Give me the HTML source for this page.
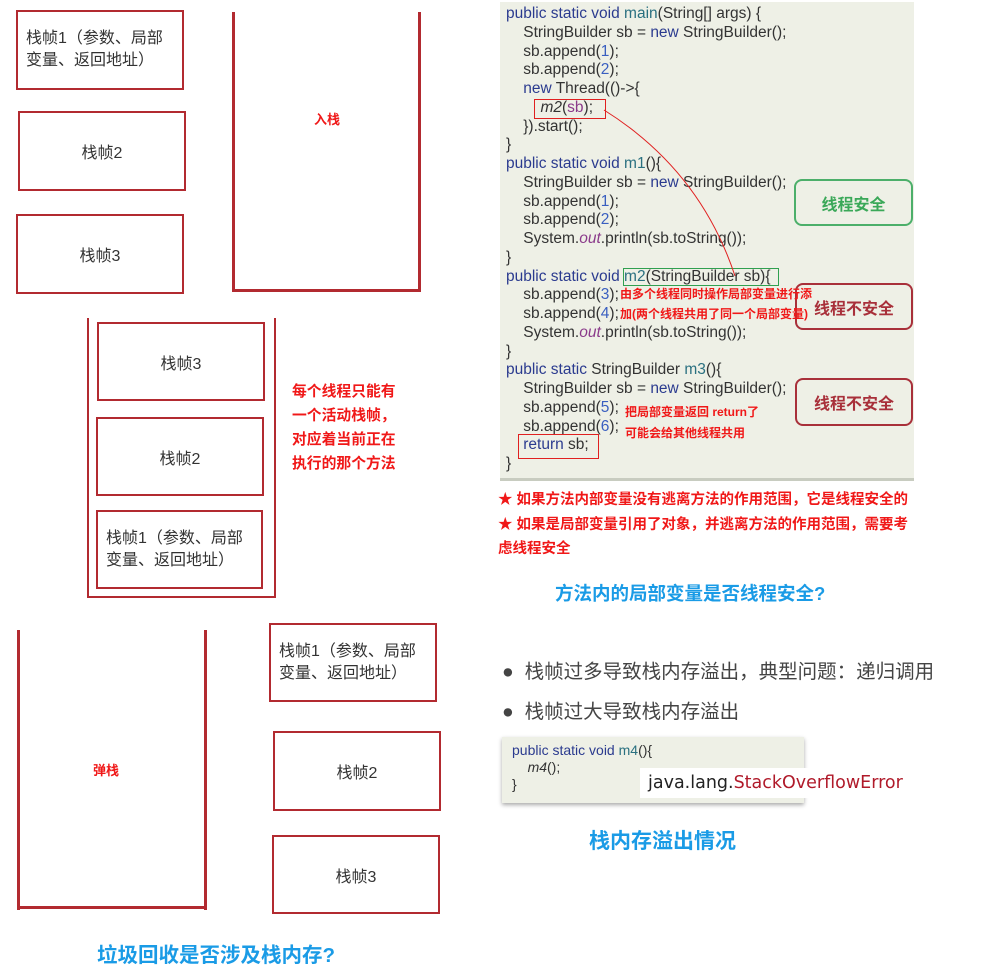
<!DOCTYPE html>
<html><head><meta charset="utf-8"><style>
body{margin:0;width:1006px;height:973px;background:#fff;position:relative;overflow:hidden;font-family:"Liberation Sans","Noto Sans CJK SC",sans-serif}
.a{position:absolute}
.box{position:absolute;border:2px solid #b22a30;box-sizing:border-box;display:flex;align-items:center;justify-content:center;font-size:16px;color:#333;background:#fff}
.box.l{justify-content:flex-start;padding-left:8px;line-height:22px}
.ln{position:absolute;background:#b22a30}
.red{color:#f01818;font-weight:bold}
.blue{color:#1a9be6;font-weight:bold;font-size:18px}
.code{position:absolute;font-size:15.5px;color:#333;line-height:18.75px;white-space:pre}
.k{color:#2b3b8f}.m{color:#2a7080}.n{color:#3a5fc0}.p{color:#8a3a8a}
.tag{position:absolute;border:2px solid;border-radius:8px;box-sizing:border-box;display:flex;align-items:center;justify-content:center;font-weight:bold;font-size:16px;background:#eef0e6}
</style></head><body>
<div class="box l" style="left:16px;top:10px;width:168px;height:80px">栈帧1（参数、局部<br>变量、返回地址）</div>
<div class="box" style="left:18px;top:111px;width:168px;height:80px">栈帧2</div>
<div class="box" style="left:16px;top:214px;width:168px;height:80px">栈帧3</div>
<div class="ln" style="left:232px;top:12px;width:3px;height:280px"></div>
<div class="ln" style="left:418px;top:12px;width:3px;height:280px"></div>
<div class="ln" style="left:232px;top:289px;width:189px;height:3px"></div>
<div class="a red" style="left:314px;top:109px;font-size:13px">入栈</div>
<div class="ln" style="left:87px;top:318px;width:2px;height:280px"></div>
<div class="ln" style="left:274px;top:318px;width:2px;height:280px"></div>
<div class="ln" style="left:87px;top:596px;width:189px;height:2px"></div>
<div class="box" style="left:97px;top:322px;width:168px;height:79px">栈帧3</div>
<div class="box" style="left:96px;top:417px;width:168px;height:79px">栈帧2</div>
<div class="box l" style="left:96px;top:510px;width:167px;height:79px">栈帧1（参数、局部<br>变量、返回地址）</div>
<div class="a red" style="left:292px;top:380px;font-size:14.8px;line-height:24px">每个线程只能有<br>一个活动栈帧，<br>对应着当前正在<br>执行的那个方法</div>
<div class="ln" style="left:17px;top:630px;width:3px;height:280px"></div>
<div class="ln" style="left:204px;top:630px;width:3px;height:280px"></div>
<div class="ln" style="left:17px;top:906px;width:190px;height:3px"></div>
<div class="a red" style="left:93px;top:760px;font-size:13px">弹栈</div>
<div class="box l" style="left:269px;top:623px;width:168px;height:79px">栈帧1（参数、局部<br>变量、返回地址）</div>
<div class="box" style="left:273px;top:731px;width:168px;height:80px">栈帧2</div>
<div class="box" style="left:272px;top:835px;width:168px;height:79px">栈帧3</div>
<div class="a blue" style="left:97px;top:938px;font-size:20.5px">垃圾回收是否涉及栈内存?</div>
<div class="a" style="left:500px;top:2px;width:414px;height:476px;background:#eef0e6;border-bottom:3px solid #c8ccc0"></div>
<div class="tag" style="left:794px;top:179px;width:119px;height:47px;border-color:#4caf6a;color:#3aa858">线程安全</div>
<div class="tag" style="left:795px;top:283px;width:118px;height:47px;border-color:#a8303a;color:#a8303a">线程不安全</div>
<div class="tag" style="left:795px;top:378px;width:118px;height:48px;border-color:#a8303a;color:#a8303a">线程不安全</div>
<div class="code" style="left:506px;top:5px"><span class="k">public static void</span> <span class="m">main</span>(String[] args) {
    StringBuilder sb = <span class="k">new</span> StringBuilder();
    sb.append(<span class="n">1</span>);
    sb.append(<span class="n">2</span>);
    <span class="k">new</span> Thread(()-&gt;{
        <i>m2</i>(<span class="p">sb</span>);
    }).start();
}
<span class="k">public static void</span> <span class="m">m1</span>(){
    StringBuilder sb = <span class="k">new</span> StringBuilder();
    sb.append(<span class="n">1</span>);
    sb.append(<span class="n">2</span>);
    System.<i class="p">out</i>.println(sb.toString());
}
<span class="k">public static void</span> <span class="m">m2</span>(StringBuilder sb){
    sb.append(<span class="n">3</span>);
    sb.append(<span class="n">4</span>);
    System.<i class="p">out</i>.println(sb.toString());
}
<span class="k">public static</span> StringBuilder <span class="m">m3</span>(){
    StringBuilder sb = <span class="k">new</span> StringBuilder();
    sb.append(<span class="n">5</span>);
    sb.append(<span class="n">6</span>);
    <span class="k">return</span> sb;
}</div>
<div class="a" style="left:534px;top:99px;width:70px;height:18px;border:1px solid #e02020"></div>
<div class="a" style="left:623px;top:268px;width:154px;height:16px;border:1px solid #30a050"></div>
<div class="a" style="left:518px;top:434px;width:79px;height:23px;border:1px solid #e02020"></div>
<svg class="a" style="left:0;top:0" width="1006" height="973"><path d="M604 110 Q700 170 735 276" fill="none" stroke="#e02020" stroke-width="1"/></svg>
<div class="a red" style="left:620px;top:284px;font-size:12px;line-height:20px">由多个线程同时操作局部变量进行添<br>加(两个线程共用了同一个局部变量)</div>
<div class="a red" style="left:625px;top:402px;font-size:12px;line-height:21px">把局部变量返回 return了<br>可能会给其他线程共用</div>
<div class="a red" style="left:498px;top:488px;font-size:14.5px;line-height:24.5px">★ 如果方法内部变量没有逃离方法的作用范围，它是线程安全的<br>★ 如果是局部变量引用了对象，并逃离方法的作用范围，需要考<br>虑线程安全</div>
<div class="a blue" style="left:555px;top:580px;font-size:18.5px">方法内的局部变量是否线程安全?</div>
<div class="a" style="left:502px;top:652px;font-size:19.5px;color:#444;line-height:40px">●&nbsp; 栈帧过多导致栈内存溢出，典型问题：递归调用<br>●&nbsp; 栈帧过大导致栈内存溢出</div>
<div class="a" style="left:502px;top:737px;width:302px;height:66px;background:#eef0e6;box-shadow:0 2px 4px #aaa"></div>
<div class="code" style="left:512px;top:742px;font-size:14px;line-height:17px"><span class="k">public static void</span> <span class="m">m4</span>(){
    <i>m4</i>();
}</div>
<div class="a" style="left:640px;top:768px;width:260px;height:30px;background:#fff;font-family:'DejaVu Sans',sans-serif;font-size:17.5px;line-height:30px;padding-left:8px;box-sizing:border-box;color:#222;white-space:nowrap">java.lang.<span style="color:#b01a2a">StackOverflowError</span></div>
<div class="a blue" style="left:589px;top:825px;font-size:21px">栈内存溢出情况</div>
</body></html>
